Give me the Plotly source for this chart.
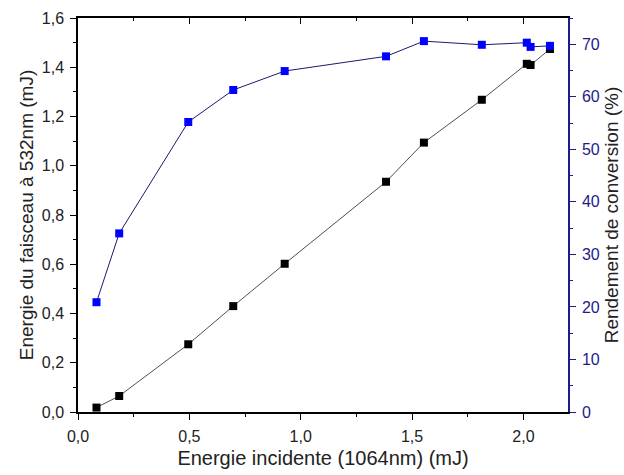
import plotly.graph_objects as go

# Data
energie_incidente = [0.083, 0.185, 0.495, 0.697, 0.928, 1.383, 1.553, 1.813, 2.015, 2.032, 2.119]
energie_532 = [0.018, 0.065, 0.275, 0.430, 0.602, 0.935, 1.094, 1.268, 1.414, 1.409, 1.474]
rendement = [20.9, 34.0, 55.2, 61.3, 64.9, 67.7, 70.6, 69.9, 70.3, 69.5, 69.7]

x_title = "Energie incidente (1064nm) (mJ)"
y_title = "Energie du faisceau à 532nm (mJ)"
y2_title = "Rendement de conversion (%)"

FONT = "Liberation Sans, Arial, sans-serif"
NAVY = "#1c1c8c"

fig = go.Figure()
fig.add_trace(go.Scatter(
    x=energie_incidente, y=energie_532, mode="lines+markers",
    line=dict(color="#222222", width=0.8),
    marker=dict(symbol="square", size=8, color="black"),
    showlegend=False, hoverinfo="skip"))
fig.add_trace(go.Scatter(
    x=energie_incidente, y=rendement, mode="lines+markers", yaxis="y2",
    line=dict(color="#1a1a6e", width=1),
    marker=dict(symbol="square", size=8, color="#0000ff"),
    showlegend=False, hoverinfo="skip"))
# placeholder trace on the mirrored top axis
fig.add_trace(go.Scatter(x=[None], y=[None], xaxis="x2", showlegend=False, hoverinfo="skip"))

fig.update_layout(
    width=624, height=475,
    margin=dict(l=78, r=56, t=18, b=63),
    paper_bgcolor="white", plot_bgcolor="white",
    separators=",.",
    font=dict(family=FONT, size=16, color="#222222"),
    xaxis=dict(
        range=[0, 2.2], dtick=0.5, tickformat=".1f", automargin=False,
        showgrid=False, zeroline=False,
        showline=True, linecolor="black", linewidth=1.5,
        ticks="outside", ticklen=6, tickwidth=1.3, tickcolor="black",
        ticklabelstandoff=3,
        minor=dict(ticks="outside", ticklen=3, dtick=0.25, tickcolor="black", tickwidth=1.2),
        title=dict(text=x_title, font=dict(size=20), standoff=7),
    ),
    xaxis2=dict(
        overlaying="x", side="top", range=[0, 2.2], dtick=0.5, automargin=False,
        showticklabels=False, showgrid=False, zeroline=False,
        showline=True, linecolor="black", linewidth=1.5,
        ticks="inside", ticklen=6, tickwidth=1.3, tickcolor="black",
        minor=dict(ticks="inside", ticklen=3, dtick=0.25, tickcolor="black", tickwidth=1.2),
    ),
    yaxis=dict(
        range=[0, 1.6], dtick=0.2, tickformat=".1f", automargin=False,
        showgrid=False, zeroline=False,
        showline=True, linecolor="black", linewidth=1.5,
        ticks="outside", ticklen=6, tickwidth=1.3, tickcolor="black",
        ticklabelstandoff=3,
        minor=dict(ticks="outside", ticklen=3, dtick=0.1, tickcolor="black", tickwidth=1.2),
        title=dict(text=y_title, font=dict(size=19), standoff=3),
    ),
    yaxis2=dict(
        overlaying="y", side="right", range=[0, 75], dtick=10, automargin=False,
        showgrid=False, zeroline=False,
        showline=True, linecolor=NAVY, linewidth=1.5,
        ticks="outside", ticklen=6, tickwidth=1.3, tickcolor=NAVY,
        ticklabelstandoff=3,
        tickfont=dict(color=NAVY),
        minor=dict(ticks="outside", ticklen=3, dtick=5, tickcolor=NAVY, tickwidth=1.2),
        title=dict(text=y2_title, font=dict(size=19, color="#222222"), standoff=6),
    ),
)

fig.write_html(
    "out.html",
    config={"displayModeBar": False},
    post_script="document.body.style.margin='0';document.body.style.padding='0';",
)
